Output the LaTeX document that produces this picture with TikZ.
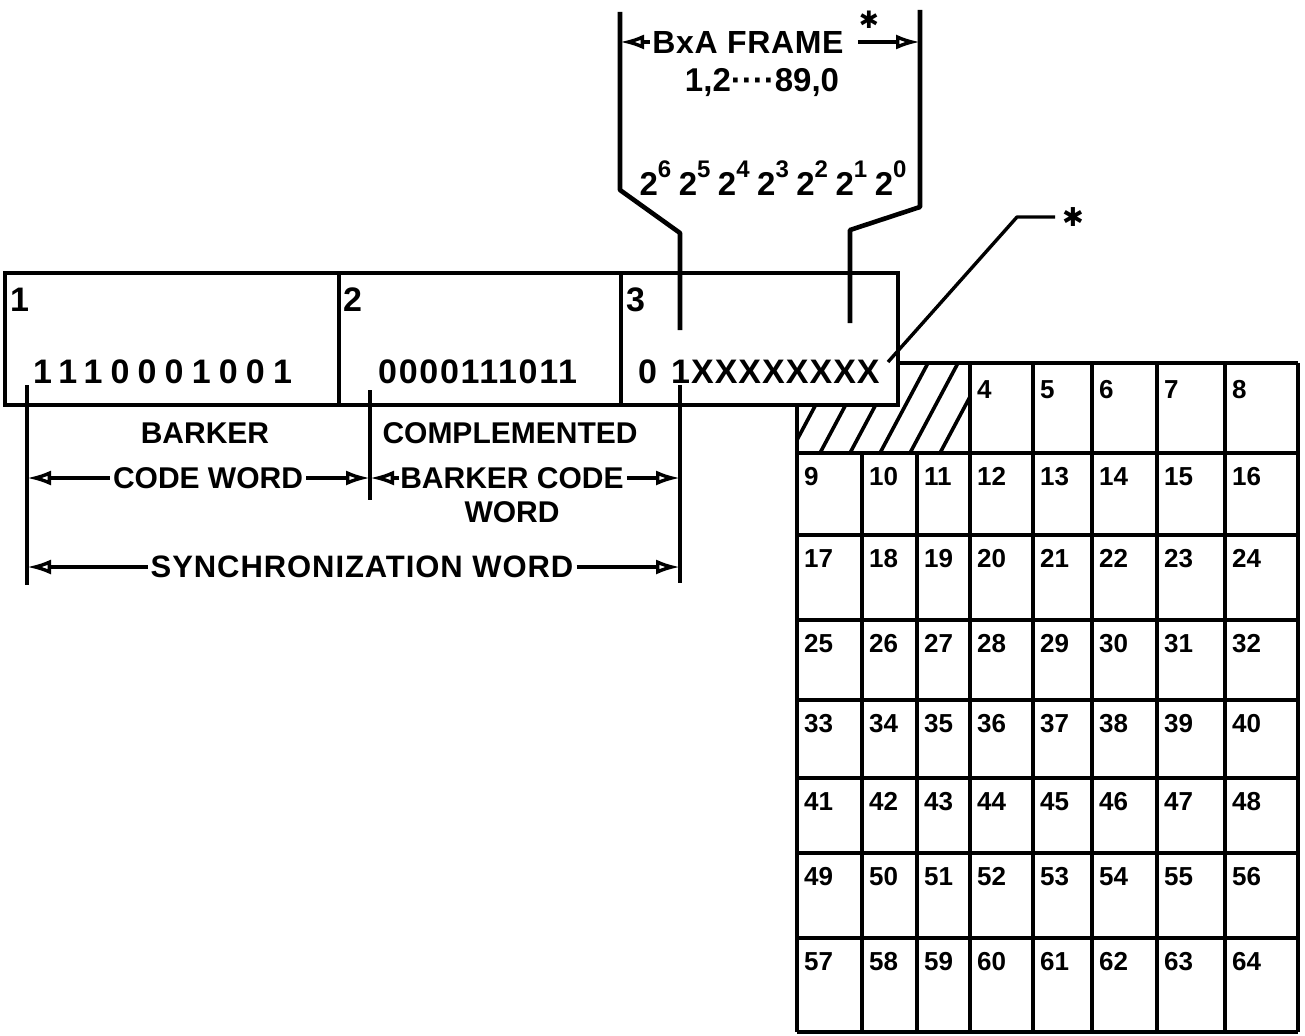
\documentclass[tikz,border=0pt]{standalone}
\usepackage{fontspec}
\setmainfont{Liberation Sans}
\newfontfamily\djv{DejaVu Sans}
\usetikzlibrary{arrows.meta}
\newcommand\pw[1]{2\raisebox{0.55em}{\fontsize{24}{24}\selectfont #1}}
\begin{document}
\begin{tikzpicture}[x=1pt,y=-1pt,
  heavy/.style={line width=4.6pt},
  dimline/.style={line width=3.4pt},
  arr/.style={dimline,-{Latex[open,length=24pt,width=15pt,line width=3.4pt]}},
  lbl/.style={inner sep=0pt,font=\fontsize{30}{32}\selectfont\bfseries},
  bits/.style={inner sep=0pt,anchor=west,font=\fontsize{34}{36}\selectfont\bfseries},
  segno/.style={inner sep=0pt,anchor=west,font=\fontsize{34}{36}\selectfont\bfseries},
  cellno/.style={inner sep=0pt,anchor=north west,font=\fontsize{26}{27}\selectfont\bfseries},
  hatch/.style={line width=3.6pt}]
\useasboundingbox (0,0) rectangle (1305,1035);
\fill[white] (0,0) rectangle (1305,1035);

% ---------- grid ----------
\def\xs{{797,862,917,970,1033,1092,1157,1225,1298}}
\def\ys{{363,453,535,620,700,778,853,938,1032}}
% hatching in the blocked cells
\begin{scope}
  \clip (797,363) rectangle (970,453);
  \foreach \x in {762,790,820,850,880,910,940} \draw[hatch] (\x,453) -- (\x+48,363);
\end{scope}
% horizontal lines
\draw[heavy] (898,363) -- (1298,363);
\foreach \j in {1,...,8} \draw[heavy] (797,{\ys[\j]}) -- (1298,{\ys[\j]});
% vertical lines
\draw[heavy] (797,403) -- (797,1032);
\draw[heavy] (862,453) -- (862,1032);
\draw[heavy] (917,453) -- (917,1032);
\foreach \i in {3,...,8} \draw[heavy] ({\xs[\i]},363) -- ({\xs[\i]},1032);
% cell numbers
\foreach \i in {3,...,7} {
  \pgfmathtruncatemacro\n{\i+1}
  \node[cellno] (c\n) at ({\xs[\i]+7},380) {\n};
}
\foreach \j in {1,...,7} {
  \foreach \i in {0,...,7} {
    \pgfmathtruncatemacro\n{8*\j+\i+1}
    \node[cellno] (c\n) at ({\xs[\i]+7},{\ys[\j]+14}) {\n};
  }
}

% ---------- synchronization word box ----------
\coordinate (bTL) at (5,273);
\coordinate (bBR) at (898,405);
\filldraw[heavy,fill=white] (bTL) rectangle (bBR);
\draw[heavy] (339,273) -- (339,405);
\draw[heavy] (621,273) -- (621,405);
\node[segno] (s1) at (10,300) {1};
\node[segno] (s2) at (343,300) {2};
\node[segno] (s3) at (626,300) {3};
\node[bits] (b1) at (33,372) {\addfontfeature{LetterSpace=24}1110001001};
\node[bits] (b2) at (378,372) {\addfontfeature{LetterSpace=5}0000111011};
\node[bits] (b3a) at (638,372) {0};
\node[bits] (b3b) at (671,372) {\addfontfeature{LetterSpace=3}1XXXXXXXX};

% ---------- BxA frame leaders ----------
\coordinate (L1) at (620,12);
\coordinate (L2) at (620,190);
\coordinate (L3) at (680,233);
\coordinate (L4) at (680,330);
\coordinate (R1) at (920,10);
\coordinate (R2) at (920,207);
\coordinate (R3) at (850,230);
\coordinate (R4) at (850,323);
\draw[heavy,line join=round] (L1) -- (L2) -- (L3) -- (L4);
\draw[heavy,line join=round] (R1) -- (R2) -- (R3) -- (R4);
\node[lbl,font=\fontsize{32}{34}\selectfont\bfseries\addfontfeature{LetterSpace=2}] (bxa) at (748,42) {BxA FRAME};
\node[inner sep=0pt,font=\fontsize{24}{24}\selectfont\djv\bfseries] (ast1) at (869,20) {✱};
\draw[arr] ([xshift=-2pt]bxa.west) -- (L1 |- bxa.west);
\draw[arr] ([xshift=14pt]bxa.east) -- (R1 |- bxa.east);
\node[lbl,font=\fontsize{33}{35}\selectfont\bfseries] (seq) at (762,83) {1,2····89,0};
\node[lbl,font=\fontsize{33}{35}\selectfont\bfseries] (pow) at (773,178)
  {\pw{6}\hspace{7.5pt}\pw{5}\hspace{7.5pt}\pw{4}\hspace{7.5pt}\pw{3}\hspace{7.5pt}\pw{2}\hspace{7.5pt}\pw{1}\hspace{7.5pt}\pw{0}};

% ---------- asterisk leader ----------
\coordinate (k0) at (888,362);
\coordinate (k1) at (1017,217);
\coordinate (k2) at (1055,217);
\draw[dimline,line join=round] (k0) -- (k1) -- (k2);
\node[inner sep=0pt,font=\fontsize{26}{26}\selectfont\djv\bfseries] (ast2) at (1073,217) {✱};

% ---------- dimension lines ----------
\coordinate (v1a) at (27,385);
\coordinate (v1b) at (27,585);
\coordinate (v2a) at (370,390);
\coordinate (v2b) at (370,500);
\coordinate (v3a) at (680,385);
\coordinate (v3b) at (680,583);
\draw[dimline] (v1a) -- (v1b);
\draw[dimline] (v2a) -- (v2b);
\draw[dimline] (v3a) -- (v3b);

\node[lbl] (barker) at (205,433) {BARKER};
\node[lbl] (cw) at (208,478) {CODE WORD};
\node[lbl] (compl) at (510,433) {COMPLEMENTED};
\node[lbl] (bcw) at (512,478) {BARKER CODE};
\node[lbl] (word) at (512,512) {WORD};
\node[lbl,font=\fontsize{31}{33}\selectfont\bfseries\addfontfeature{LetterSpace=3}] (sync) at (362,567) {SYNCHRONIZATION WORD};

\draw[arr] ([xshift=-3pt]cw.west) -- (v1a |- cw.west);
\draw[arr] ([xshift=3pt]cw.east) -- (v2a |- cw.east);
\draw[arr] ([xshift=-1pt]bcw.west) -- (v2a |- bcw.west);
\draw[arr] ([xshift=3pt]bcw.east) -- (v3a |- bcw.east);
\draw[arr] ([xshift=-3pt]sync.west) -- (v1a |- sync.west);
\draw[arr] ([xshift=3pt]sync.east) -- (v3a |- sync.east);
\end{tikzpicture}
\end{document}
